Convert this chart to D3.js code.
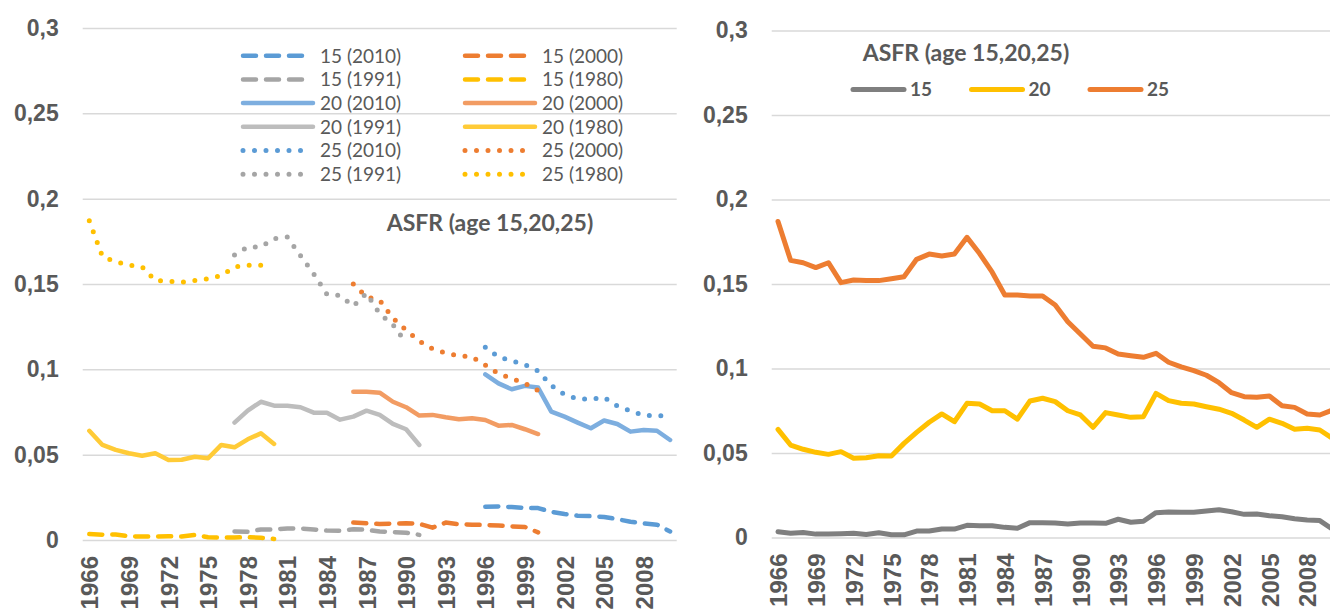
<!DOCTYPE html>
<html>
<head>
<meta charset="utf-8">
<script src="https://cdn.jsdelivr.net/npm/d3@7/dist/d3.min.js"></script>
<style>
  body { margin: 0; background: #fff; }
  svg { display: block; font-family: Lato, 'Open Sans', sans-serif; }
  .tick text { fill: #595959; font-weight: bold; }
</style>
</head>
<body>
<svg id="chart" width="1330" height="610"></svg>
<script>
// categories (single years)
const years = [1966, 1967, 1968, 1969, 1970, 1971, 1972, 1973, 1974, 1975,
  1976, 1977, 1978, 1979, 1980, 1981, 1982, 1983, 1984, 1985,
  1986, 1987, 1988, 1989, 1990, 1991, 1992, 1993, 1994, 1995,
  1996, 1997, 1998, 1999, 2000, 2001, 2002, 2003, 2004, 2005,
  2006, 2007, 2008, 2009, 2010];
const yearLabels = [1966, 1969, 1972, 1975, 1978, 1981, 1984, 1987, 1990, 1993, 1996, 1999, 2002, 2005, 2008];
const yTicks = [0, 0.05, 0.1, 0.15, 0.2, 0.25, 0.3];

// left chart: one series per survey, each starting at its own first year
const asfr15_2010 = [0.0195, 0.0197, 0.0193, 0.0188, 0.0187, 0.0165, 0.0152, 0.0142, 0.014, 0.0135, 0.0122, 0.0107, 0.0097, 0.009, 0.005];
const asfr15_2000 = [0.0102, 0.0098, 0.0094, 0.0096, 0.0098, 0.0095, 0.0072, 0.0102, 0.0092, 0.009, 0.0088, 0.0085, 0.008, 0.0076, 0.0045];
const asfr15_1991 = [0.005, 0.0048, 0.0062, 0.0062, 0.0068, 0.0067, 0.0062, 0.0055, 0.0054, 0.0063, 0.006, 0.005, 0.0046, 0.0043, 0.003];
const asfr15_1980 = [0.0035, 0.0031, 0.0032, 0.0022, 0.002, 0.0021, 0.0022, 0.0021, 0.003, 0.0016, 0.0015, 0.0015, 0.0016, 0.0013, 0.0006];
const asfr20_2010 = [0.0971, 0.0918, 0.0883, 0.0903, 0.0893, 0.0752, 0.0723, 0.0688, 0.0655, 0.07, 0.068, 0.0635, 0.0645, 0.064, 0.0586];
const asfr20_2000 = [0.0869, 0.0869, 0.0863, 0.081, 0.0778, 0.0729, 0.0733, 0.0719, 0.0707, 0.0713, 0.0703, 0.067, 0.0674, 0.0649, 0.0621];
const asfr20_1991 = [0.0688, 0.0758, 0.081, 0.0787, 0.0787, 0.0778, 0.0746, 0.0746, 0.0705, 0.0723, 0.0758, 0.0733, 0.068, 0.0649, 0.0557];
const asfr20_1980 = [0.064, 0.0557, 0.0528, 0.0508, 0.0494, 0.0508, 0.0469, 0.047, 0.0488, 0.0479, 0.0557, 0.0543, 0.059, 0.0625, 0.0563];
const asfr25_2010 = [0.113, 0.1072, 0.105, 0.1027, 0.099, 0.0905, 0.0852, 0.0827, 0.0825, 0.0835, 0.0785, 0.0757, 0.073, 0.0728, 0.0726];
const asfr25_2000 = [0.150, 0.1425, 0.1405, 0.130, 0.123, 0.1165, 0.112, 0.1095, 0.108, 0.1073, 0.1025, 0.0975, 0.0947, 0.0918, 0.0875];
const asfr25_1991 = [0.167, 0.1717, 0.1717, 0.1766, 0.1775, 0.1666, 0.156, 0.144, 0.1432, 0.137, 0.1445, 0.1325, 0.1262, 0.1155];
const asfr25_1980 = [0.187, 0.166, 0.163, 0.161, 0.160, 0.152, 0.1516, 0.151, 0.152, 0.153, 0.155, 0.160, 0.161, 0.161];

// right chart: pooled series
const asfr15 = [0.0034, 0.0025, 0.003, 0.002, 0.002, 0.0022, 0.0025, 0.0018, 0.0028, 0.0016, 0.0016, 0.0038, 0.0038, 0.005, 0.005, 0.0072, 0.007, 0.007, 0.006, 0.0055, 0.0088, 0.0088, 0.0086, 0.008, 0.0086, 0.0086, 0.0084, 0.0108, 0.009, 0.0096, 0.0147, 0.0151, 0.0149, 0.0149, 0.0157, 0.0164, 0.0152, 0.0137, 0.0139, 0.0129, 0.0123, 0.0111, 0.0104, 0.01, 0.005];
const asfr20 = [0.064, 0.0547, 0.0522, 0.0504, 0.0492, 0.0508, 0.0469, 0.0472, 0.0484, 0.0482, 0.0557, 0.0622, 0.0682, 0.0731, 0.0685, 0.0794, 0.079, 0.075, 0.075, 0.07, 0.0808, 0.0824, 0.0804, 0.075, 0.0725, 0.0652, 0.0739, 0.0725, 0.0711, 0.0715, 0.0853, 0.081, 0.0794, 0.079, 0.0774, 0.0759, 0.0735, 0.0695, 0.0652, 0.07, 0.0676, 0.064, 0.0646, 0.0636, 0.0587];
const asfr25 = [0.187, 0.164, 0.1626, 0.1597, 0.1626, 0.1508, 0.1524, 0.152, 0.152, 0.1531, 0.1543, 0.1646, 0.1677, 0.1666, 0.1677, 0.1776, 0.168, 0.157, 0.1435, 0.1435, 0.1429, 0.1429, 0.1376, 0.1277, 0.1204, 0.1132, 0.1122, 0.1086, 0.1076, 0.1066, 0.109, 0.1037, 0.101, 0.0987, 0.096, 0.0916, 0.0857, 0.0833, 0.083, 0.0837, 0.078, 0.077, 0.0731, 0.0725, 0.0754];

const titleText = 'ASFR (age 15,20,25)';

const COL = {
  blue: '#5B9BD5', orange: '#ED7D31', grey: '#A5A5A5', gold: '#FFC000',
  blueL: '#7DAEDF', orangeL: '#F29C63', greyL: '#BDBDBD', goldL: '#FFCB37',
  dark: '#7F7F7F', text: '#595959', grid: '#D9D9D9'
};
const DASH = {dash: '13,10', dot: '0,11.5', solid: null};

// legend order (two columns, row by row)
const leftSeries = [
  {name: '15 (2010)', start: 1996, values: asfr15_2010, color: COL.blue, style: 'dash'},
  {name: '15 (2000)', start: 1986, values: asfr15_2000, color: COL.orange, style: 'dash'},
  {name: '15 (1991)', start: 1977, values: asfr15_1991, color: COL.grey, style: 'dash'},
  {name: '15 (1980)', start: 1966, values: asfr15_1980, color: COL.gold, style: 'dash'},
  {name: '20 (2010)', start: 1996, values: asfr20_2010, color: COL.blueL, style: 'solid'},
  {name: '20 (2000)', start: 1986, values: asfr20_2000, color: COL.orangeL, style: 'solid'},
  {name: '20 (1991)', start: 1977, values: asfr20_1991, color: COL.greyL, style: 'solid'},
  {name: '20 (1980)', start: 1966, values: asfr20_1980, color: COL.goldL, style: 'solid'},
  {name: '25 (2010)', start: 1996, values: asfr25_2010, color: COL.blue, style: 'dot'},
  {name: '25 (2000)', start: 1986, values: asfr25_2000, color: COL.orange, style: 'dot'},
  {name: '25 (1991)', start: 1977, values: asfr25_1991, color: COL.grey, style: 'dot'},
  {name: '25 (1980)', start: 1966, values: asfr25_1980, color: COL.gold, style: 'dot'}
];
const rightSeries = [
  {name: '15', values: asfr15, color: COL.dark},
  {name: '20', values: asfr20, color: COL.gold},
  {name: '25', values: asfr25, color: COL.orange}
];

const svg = d3.select('#chart');
svg.append('rect').attr('width', 1330).attr('height', 610).attr('fill', '#fff');

const fmt = v => String(v).replace('.', ',');

// draws gridlines + both axes for one panel, returns scales
function drawFrame(g, x0, x1, yBottom, yTop) {
  const x = d3.scalePoint().domain(years).range([x0, x1]).padding(0.5);
  const y = d3.scaleLinear().domain([0, 0.3]).range([yBottom, yTop]);

  const yAxis = g.append('g')
    .attr('transform', 'translate(' + x0 + ',0)')
    .call(d3.axisLeft(y).tickValues(yTicks).tickFormat(fmt).tickSize(-(x1 - x0)).tickPadding(24));
  yAxis.select('.domain').remove();
  yAxis.selectAll('.tick line').attr('stroke', COL.grid).attr('stroke-width', 1.5);
  yAxis.selectAll('.tick text').attr('font-size', 23);

  const xAxis = g.append('g')
    .attr('transform', 'translate(0,' + yBottom + ')')
    .call(d3.axisBottom(x).tickValues(yearLabels).tickSize(0));
  xAxis.select('.domain').remove();
  xAxis.selectAll('.tick text')
    .attr('font-size', 24)
    .attr('text-anchor', 'end')
    .attr('transform', 'translate(0,16) rotate(-90)')
    .attr('x', 0).attr('y', 0).attr('dy', '0.36em');
  return {x: x, y: y};
}

// ---- left panel ----
const left = svg.append('g');
const L = drawFrame(left, 82.7, 676.7, 540, 28);

const leftLine = d3.line()
  .x(d => L.x(d.year))
  .y(d => L.y(d.value));

left.selectAll('path.series')
  .data(leftSeries)
  .enter().append('path')
    .attr('class', 'series')
    .attr('d', s => leftLine(s.values.map((v, i) => ({year: s.start + i, value: v}))))
    .attr('fill', 'none')
    .attr('stroke', s => s.color)
    .attr('stroke-width', s => s.style === 'dot' ? 5 : 4.5)
    .attr('stroke-linecap', 'round')
    .attr('stroke-linejoin', 'round')
    .attr('stroke-dasharray', s => DASH[s.style]);

left.append('text')
  .attr('x', 490).attr('y', 223).attr('dy', '0.35em')
  .attr('text-anchor', 'middle')
  .attr('font-size', 23).attr('font-weight', 'bold')
  .attr('fill', COL.text)
  .text(titleText);

const leg = left.append('g').attr('transform', 'translate(243,55.7)');
const legItem = leg.selectAll('g')
  .data(leftSeries)
  .enter().append('g')
    .attr('transform', (s, i) => 'translate(' + (i % 2) * 222 + ',' + Math.floor(i / 2) * 23.7 + ')');
legItem.append('line')
  .attr('x1', 0).attr('x2', s => s.style === 'solid' ? 70 : 66)
  .attr('stroke', s => s.color)
  .attr('stroke-width', s => s.style === 'dot' ? 5 : 4.5)
  .attr('stroke-linecap', 'round')
  .attr('stroke-dasharray', s => DASH[s.style]);
legItem.append('text')
  .attr('x', 77).attr('dy', '0.36em')
  .attr('font-size', 19)
  .attr('fill', COL.text)
  .text(s => s.name);

// ---- right panel ----
const right = svg.append('g');
const R = drawFrame(right, 771.7, 1338.7, 537.5, 30.5);

const rightLine = d3.line()
  .x((d, i) => R.x(years[i]))
  .y(d => R.y(d));

right.selectAll('path.series')
  .data(rightSeries)
  .enter().append('path')
    .attr('class', 'series')
    .attr('d', s => rightLine(s.values))
    .attr('fill', 'none')
    .attr('stroke', s => s.color)
    .attr('stroke-width', 5)
    .attr('stroke-linecap', 'round')
    .attr('stroke-linejoin', 'round');

right.append('text')
  .attr('x', 966).attr('y', 52.5).attr('dy', '0.35em')
  .attr('text-anchor', 'middle')
  .attr('font-size', 23).attr('font-weight', 'bold')
  .attr('fill', COL.text)
  .text(titleText);

const rleg = right.append('g').attr('transform', 'translate(853,89.4)');
const rItem = rleg.selectAll('g')
  .data(rightSeries)
  .enter().append('g')
    .attr('transform', (s, i) => 'translate(' + i * 118.5 + ',0)');
rItem.append('line')
  .attr('x1', 0).attr('x2', 51)
  .attr('stroke', s => s.color)
  .attr('stroke-width', 5)
  .attr('stroke-linecap', 'round');
rItem.append('text')
  .attr('x', 57).attr('dy', '0.36em')
  .attr('font-size', 19).attr('font-weight', 'bold')
  .attr('fill', COL.text)
  .text(s => s.name);
</script>
</body>
</html>
